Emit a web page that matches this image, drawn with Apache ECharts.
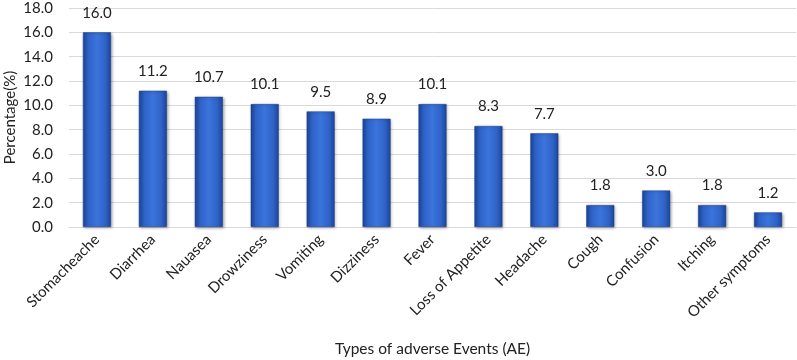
<!DOCTYPE html>
<html>
<head>
<meta charset="utf-8">
<script src="https://cdn.jsdelivr.net/npm/echarts@6/dist/echarts.min.js"></script>
<style>
  html, body { margin: 0; padding: 0; background: #fff; }
  #chart { width: 797px; height: 360px; }
</style>
</head>
<body>
<div id="chart"></div>
<script>
// categories and values
var categories = ['Stomacheache', 'Diarrhea', 'Nauasea', 'Drowziness', 'Vomiting', 'Dizziness',
  'Fever', 'Loss of Appetite', 'Headache', 'Cough', 'Confusion', 'Itching', 'Other symptoms'];
var percentages = [16.0, 11.2, 10.7, 10.1, 9.5, 8.9, 10.1, 8.3, 7.7, 1.8, 3.0, 1.8, 1.2];
var yTicks = [0, 2, 4, 6, 8, 10, 12, 14, 16, 18];

var myChart = echarts.init(document.getElementById('chart'));
var font = 'Lato, "Liberation Sans", sans-serif';

var option = {
  animation: false,
  grid: {
    left: 69,
    right: 1,
    top: 8,
    bottom: 133,
    outerBoundsMode: 'none'
  },
  xAxis: {
    type: 'category',
    data: categories,
    name: 'Types of adverse Events (AE)',
    nameLocation: 'middle',
    nameGap: 114,
    nameMoveOverlap: false,
    nameTextStyle: { color: '#222', fontSize: 15.5, fontFamily: font },
    axisTick: { show: false },
    axisLine: { lineStyle: { color: '#d9d9d9' } },
    axisLabel: {
      interval: 0,
      rotate: 45,
      margin: 10,
      color: '#222',
      fontSize: 15,
      fontFamily: font
    }
  },
  yAxis: {
    type: 'value',
    min: yTicks[0],
    max: yTicks[yTicks.length - 1],
    interval: 2,
    name: 'Percentage(%)',
    nameLocation: 'middle',
    nameGap: 51,
    nameMoveOverlap: false,
    nameTextStyle: { color: '#222', fontSize: 15, fontFamily: font },
    axisLine: { show: false },
    axisTick: { show: false },
    splitLine: { lineStyle: { color: '#d9d9d9' } },
    axisLabel: {
      color: '#222',
      fontSize: 15,
      fontFamily: font,
      margin: 16,
      formatter: function (v) { return v.toFixed(1); }
    }
  },
  series: [{
    type: 'bar',
    data: percentages,
    barWidth: 28,
    itemStyle: {
      color: new echarts.graphic.LinearGradient(0, 0, 1, 0, [
        { offset: 0, color: '#1d459a' },
        { offset: 0.2, color: '#2f63c8' },
        { offset: 0.5, color: '#3b74dc' },
        { offset: 0.8, color: '#2f63c8' },
        { offset: 1, color: '#1d459a' }
      ]),
      borderColor: '#1a3f8c',
      borderWidth: 0.5,
      shadowColor: 'rgba(0,0,0,0.35)',
      shadowBlur: 3,
      shadowOffsetX: 1,
      shadowOffsetY: 1
    },
    label: {
      show: true,
      position: 'top',
      distance: 12,
      color: '#222',
      fontSize: 15,
      fontFamily: font,
      formatter: function (p) { return p.value.toFixed(1); }
    }
  }]
};

myChart.setOption(option);
</script>
</body>
</html>
